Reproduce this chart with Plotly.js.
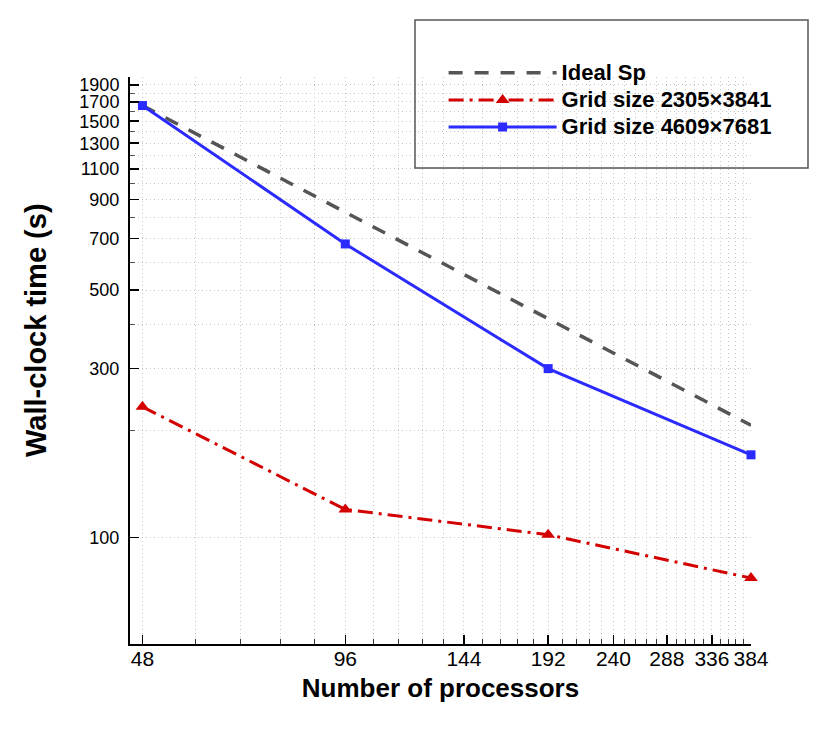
<!DOCTYPE html>
<html>
<head>
<meta charset="utf-8">
<script src="https://cdn.plot.ly/plotly-3.0.1.min.js"></script>
<style>
  html, body { margin: 0; padding: 0; background: #ffffff; }
  #chart { width: 830px; height: 739px; }
</style>
</head>
<body>
<div id="chart"></div>
<script>
// ---- data ----
var processors = [48, 96, 192, 384];
var idealSp = [1660, 830, 415, 207.5];
var grid2305 = [234, 120, 101.8, 76.8];
var grid4609 = [1661, 675, 300, 171.2];

var seriesNames = ['Ideal Sp', 'Grid size 2305\u00d73841', 'Grid size 4609\u00d77681'];

var xTickVals = [48, 96, 144, 192, 240, 288, 336, 384];
var xTickText = ['48', '96', '144', '192', '240', '288', '336', '384'];
var yTickVals = [100, 300, 500, 700, 900, 1100, 1300, 1500, 1700, 1900];
var yTickText = ['100', '300', '500', '700', '900', '1100', '1300', '1500', '1700', '1900'];

var xTitle = 'Number of processors';
var yTitle = 'Wall-clock time (s)';

// minor ticks: x every 9.6 between majors, y at the even hundreds
var xMinor = [];
for (var k = 1; k < 35; k++) { if (k % 5 !== 0) xMinor.push(+(48 + 9.6 * k).toFixed(1)); }
var yMinor = [];
for (var v = 200; v <= 2000; v += 200) yMinor.push(v);

var FONT = 'Liberation Sans, Arial, Helvetica, sans-serif';

function legendName(s) { return '<span style="font-size:22px">' + s + '</span>'; }

var traces = [
  {
    x: processors, y: idealSp, name: legendName(seriesNames[0]), type: 'scatter', mode: 'lines',
    line: { color: '#555555', width: 3.5, dash: '14px,12px' },
    cliponaxis: false
  },
  {
    x: processors, y: grid2305, name: legendName(seriesNames[1]), type: 'scatter', mode: 'lines+markers',
    line: { color: '#d40000', width: 3, dash: '15px,6px,3px,6px' },
    marker: { symbol: 'triangle-up', size: 12, color: '#d40000' },
    cliponaxis: false
  },
  {
    x: processors, y: grid4609, name: legendName(seriesNames[2]), type: 'scatter', mode: 'lines+markers',
    line: { color: '#2b2bff', width: 3 },
    marker: { symbol: 'square', size: 9, color: '#2b2bff' },
    cliponaxis: false
  }
];

var gridCol = '#c6c6c6';
var gridDash = '1px,3px';

var layout = {
  width: 830, height: 739,
  margin: { l: 130, r: 79, t: 77, b: 95 },
  paper_bgcolor: '#ffffff', plot_bgcolor: '#ffffff',
  font: { family: FONT, color: '#000000' },
  showlegend: true,
  xaxis: {
    type: 'log',
    range: [Math.log10(46), Math.log10(384)],
    tickmode: 'array', tickvals: xTickVals, ticktext: xTickText,
    ticks: 'inside', ticklen: 9, tickwidth: 1.5, tickcolor: '#000000',
    showline: true, linewidth: 2, linecolor: '#000000', mirror: false,
    showgrid: true, gridcolor: gridCol, griddash: gridDash, gridwidth: 1,
    zeroline: false,
    tickfont: { family: FONT, size: 21, color: '#000000' },
    ticklabelstandoff: -5,
    minor: { tickmode: 'array', tickvals: xMinor, ticks: 'inside', ticklen: 5, tickwidth: 1, tickcolor: '#333333',
             showgrid: true, gridcolor: gridCol, griddash: gridDash, gridwidth: 1 },
    title: { text: xTitle, font: { family: FONT, size: 26, weight: 700, color: '#000000' }, standoff: 10 }
  },
  yaxis: {
    type: 'log',
    range: [Math.log10(50), Math.log10(2000)],
    tickmode: 'array', tickvals: yTickVals, ticktext: yTickText,
    ticks: 'inside', ticklen: 9, tickwidth: 1.5, tickcolor: '#000000',
    showline: true, linewidth: 2, linecolor: '#000000', mirror: false,
    showgrid: true, gridcolor: gridCol, griddash: gridDash, gridwidth: 1,
    zeroline: false,
    tickfont: { family: FONT, size: 18, color: '#000000' },
    ticklabelstandoff: 5,
    minor: { tickmode: 'array', tickvals: yMinor, ticks: 'inside', ticklen: 5, tickwidth: 1, tickcolor: '#555555',
             showgrid: true, gridcolor: gridCol, griddash: gridDash, gridwidth: 1 }
  },
  annotations: [
    { text: yTitle, xref: 'paper', yref: 'paper', x: (36 - 130) / 621, y: (644 - 330) / 567,
      xanchor: 'center', yanchor: 'middle', textangle: -90, showarrow: false,
      font: { family: FONT, size: 29, weight: 700, color: '#000000' } }
  ],
  legend: {
    x: 0.505, y: 1.04, xanchor: 'left', yanchor: 'top',
    bgcolor: 'rgba(0,0,0,0)', borderwidth: 0,
    font: { family: FONT, size: 18.5, weight: 700, color: '#000000' },
    itemwidth: 108, tracegroupgap: 0
  },
  shapes: [
    { type: 'rect', xref: 'paper', yref: 'paper',
      x0: (415 - 130) / 621, x1: (808 - 130) / 621,
      y0: (644 - 168) / 567, y1: (644 - 20) / 567,
      line: { color: '#555555', width: 1.5 }, fillcolor: 'rgba(0,0,0,0)', layer: 'above' }
  ]
};

Plotly.newPlot('chart', traces, layout, { displayModeBar: false, staticPlot: true });
</script>
</body>
</html>
